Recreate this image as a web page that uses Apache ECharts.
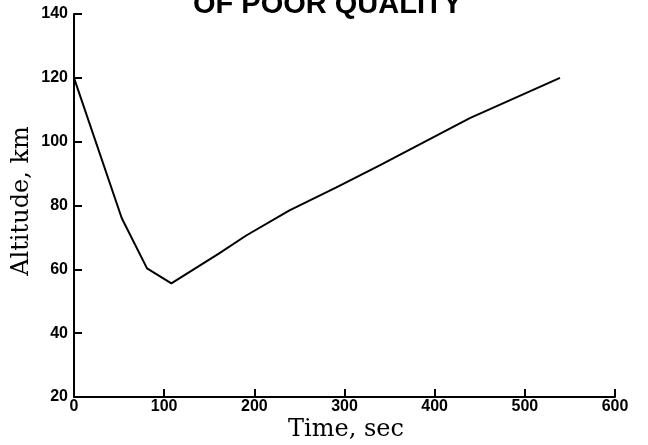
<!DOCTYPE html>
<html>
<head>
<meta charset="utf-8">
<script src="https://cdn.jsdelivr.net/npm/echarts@6/dist/echarts.min.js"></script>
<style>html,body{margin:0;padding:0;background:#fff;}#c{width:648px;height:445px;}</style>
</head>
<body>
<div id="c"></div>
<script>
var timeSec = [0, 53, 81, 108, 161, 191, 239, 291, 339, 439, 539];
var altitudeKm = [120, 76, 60.3, 55.6, 65, 70.6, 78.5, 85.7, 92.6, 107.4, 120];
var xTicks = [0, 100, 200, 300, 400, 500, 600];
var yTicks = [20, 40, 60, 80, 100, 120, 140];
var titleText = 'OF POOR QUALITY';
var xName = 'Time, sec';
var yName = 'Altitude, km';

var chart = echarts.init(document.getElementById('c'), null, {renderer: 'canvas'});
var pts = timeSec.map(function (t, i) { return [t, altitudeKm[i]]; });
chart.setOption({
  animation: false,
  backgroundColor: '#fff',
  grid: {left: 74, right: 33, top: 14, bottom: 48},
  xAxis: {
    type: 'value', min: xTicks[0], max: xTicks[xTicks.length - 1], interval: 100,
    axisLine: {show: true, lineStyle: {color: '#000', width: 2}},
    axisTick: {show: true, inside: true, length: 8, lineStyle: {color: '#000', width: 2}},
    axisLabel: {color: '#000', fontFamily: 'Liberation Sans', fontWeight: 'bold', fontSize: 16, margin: 2},
    splitLine: {show: false}
  },
  yAxis: {
    type: 'value', min: yTicks[0], max: yTicks[yTicks.length - 1], interval: 20,
    axisLine: {show: true, lineStyle: {color: '#000', width: 2}},
    axisTick: {show: true, inside: true, length: 8, lineStyle: {color: '#000', width: 2}},
    axisLabel: {color: '#000', fontFamily: 'Liberation Sans', fontWeight: 'bold', fontSize: 16, margin: 6},
    splitLine: {show: false}
  },
  series: [{
    type: 'line', data: pts, showSymbol: false, symbol: 'none',
    lineStyle: {color: '#000', width: 2}
  }],
  graphic: [
    {type: 'text', left: 193, top: -10, style: {text: titleText, fill: '#000', font: 'bold 29px "Liberation Sans"'}},
    {type: 'text', x: 346, y: 430, style: {text: xName, fill: '#000', font: '24px "DejaVu Serif"', textAlign: 'center', textVerticalAlign: 'middle'}},
    {type: 'text', x: 22, y: 201, rotation: Math.PI / 2, style: {text: yName, fill: '#000', font: '24px "DejaVu Serif"', textAlign: 'center', textVerticalAlign: 'middle'}}
  ]
});
</script>
</body>
</html>
